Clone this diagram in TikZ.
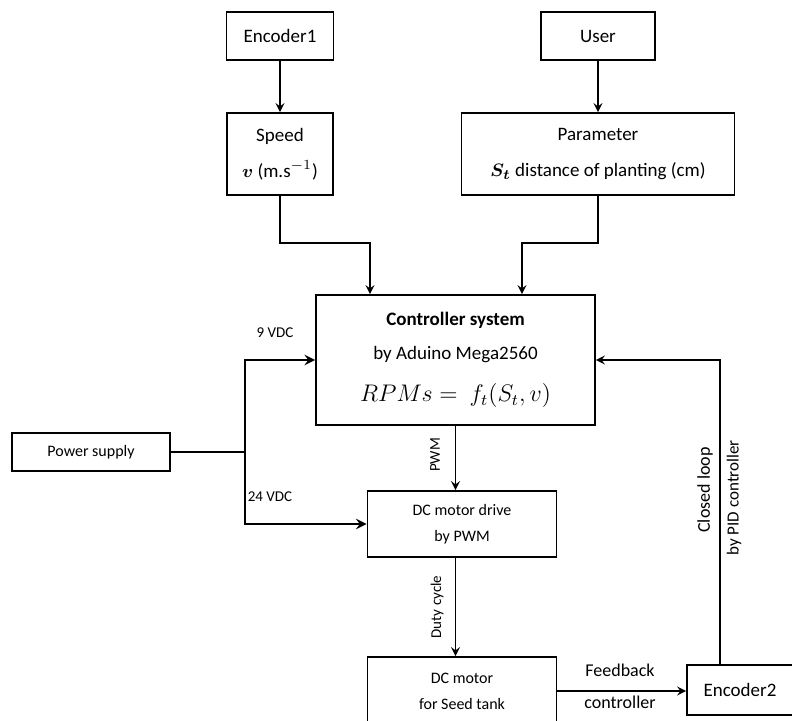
\documentclass[tikz,border=0pt]{standalone}
\usepackage{fontspec}
\setmainfont{Carlito}
\usepackage{bm}
\begin{document}
\begin{tikzpicture}[>=stealth, x=0.5pt, y=-0.5pt, line width=0.95pt,
  blk/.style={draw, line width=0.95pt, align=center, inner sep=0pt, font=\fontsize{9.5}{18}\selectfont},
  small blk/.style={blk, font=\fontsize{8}{13}\selectfont},
  lbl/.style={font=\fontsize{7.5}{9}\selectfont}]
\useasboundingbox (0,0) rectangle (792,721);
% boxes
\node[blk, minimum width=53.5pt, minimum height=24pt](enc1) at (280,36){Encoder1};
\node[blk, minimum width=57pt, minimum height=24pt](user) at (598,36){User};
\node[blk, minimum width=53pt, minimum height=41pt](speed) at (280,154){Speed\\$\bm{v}$ (m.s$^{-1}$)};
\node[blk, minimum width=136.5pt, minimum height=41pt](param) at (598,154){Parameter\\$\bm{S_t}$ distance of planting (cm)};
\node[blk, minimum width=139.5pt, minimum height=65pt](ctrl) at (455.5,360)
  {\textbf{Controller system}\\[-1pt] by Aduino Mega2560\\[3pt] \fontsize{11.5}{14}\selectfont $RPMs =\ f_t(S_t,v)$};
\node[small blk, minimum width=79pt, minimum height=19pt](power) at (91,452){Power supply};
\node[small blk, minimum width=94.5pt, minimum height=33pt](drive) at (462,524){DC motor drive\\by PWM};
\node[small blk, minimum width=94.5pt, minimum height=34pt](motor) at (462,691){DC motor\\for Seed tank};
\node[blk, minimum width=53pt, minimum height=25pt](enc2) at (740,690){Encoder2};
\coordinate (split) at (245,452);
% connectors
\draw[->](enc1)--(speed);
\draw[->](user)--(param);
\draw[->](speed.south)--++(0,47)-|([xshift=-42.75pt]ctrl.north);
\draw[->](param.south)--++(0,47)-|([xshift=33.25pt]ctrl.north);
\draw[line width=1.3pt](power.east)--(split);
\draw[->, line width=1.3pt](split)|-(ctrl.west);
\draw[->, line width=1.3pt](split)|-(drive.west);
\draw[->](ctrl.south)--(ctrl.south |- drive.north);
\draw[->](ctrl.south |- drive.south)--(ctrl.south |- motor.north);
\draw[->](motor.east)--(motor.east -| enc2.west);
\draw[->]([xshift=-10pt]enc2.north)|-(ctrl.east);
% labels
\node[lbl](v9) at (275,333){9 VDC};
\node[lbl](v24) at (270,497){24 VDC};
\node[lbl, rotate=90](pwm) at (435,455){PWM};
\node[lbl, rotate=90](duty) at (437,607){Duty cycle};
\node[lbl, font=\fontsize{9}{11}\selectfont](fb1) at (620,670){Feedback};
\node[lbl, font=\fontsize{9}{11}\selectfont](fb2) at (620,702){controller};
\node[lbl, rotate=90, font=\fontsize{9}{11}\selectfont](cl1) at (705,490){Closed loop};
\node[lbl, rotate=90, font=\fontsize{8.5}{11}\selectfont](cl2) at (734,498){by PID controller};
\end{tikzpicture}
\end{document}
